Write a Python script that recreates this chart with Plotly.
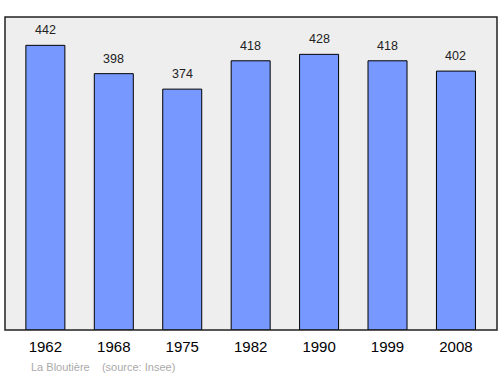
import plotly.graph_objects as go

years = ["1962", "1968", "1975", "1982", "1990", "1999", "2008"]
population = [442, 398, 374, 418, 428, 418, 402]

fig = go.Figure()
fig.add_trace(go.Bar(
    x=years, y=population,
    marker=dict(color="#7799ff", line=dict(color="#000000", width=1)),
    width=0.57,
))
for i, v in enumerate(population):
    fig.add_annotation(x=i, y=v, text=str(v), showarrow=False,
                       yanchor="bottom", yshift=6,
                       font=dict(family="Liberation Sans, Arial", size=12.5, color="#222222"))

fig.add_shape(type="rect", xref="paper", yref="paper", x0=0, y0=0, x1=1, y1=1,
              line=dict(color="#222222", width=1.5), layer="above")

fig.add_annotation(xref="paper", yref="paper", x=0.049, y=-0.093, xanchor="left", yanchor="top",
                   text="La Bloutière&nbsp;&nbsp;&nbsp;&nbsp;(source: Insee)", showarrow=False,
                   font=dict(family="Liberation Sans, Arial", size=11, color="#aaaaaa"))

fig.update_layout(
    width=500, height=374,
    margin=dict(l=5, r=3, t=17, b=44),
    paper_bgcolor="#ffffff",
    plot_bgcolor="#eeeeee",
    showlegend=False,
    xaxis=dict(type="category", range=[-0.59, 6.6], showgrid=False, zeroline=False, ticks="",
               ticklabelstandoff=6,
               tickfont=dict(family="Liberation Sans, Arial", size=15, color="#000000")),
    yaxis=dict(range=[0, 486], visible=False, showgrid=False),
)
fig.write_html("out.html")
